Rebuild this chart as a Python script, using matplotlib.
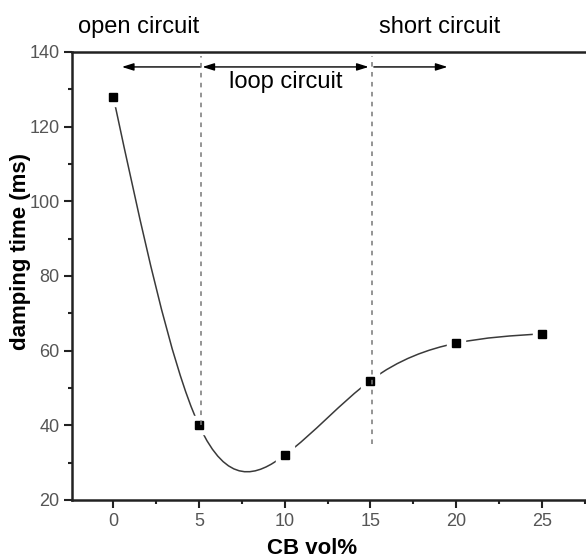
import numpy as np
import matplotlib
matplotlib.use('Agg')
import matplotlib.pyplot as plt
from matplotlib.path import Path
from matplotlib.patches import PathPatch
from matplotlib.ticker import MultipleLocator

# data
cb_vol = [0, 5, 10, 15, 20, 25]
damping_ms = [128, 40, 32, 52, 62, 64.5]
boundaries = [5, 15]
boundary_bottoms = [40, 35]
region_labels = ['open circuit', 'loop circuit', 'short circuit']

plt.rcParams['font.family'] = ['Liberation Sans', 'DejaVu Sans']

fig = plt.figure(figsize=(5.86, 5.6), dpi=100)
ax = fig.add_axes([72 / 586, 60 / 560, 1 - 72 / 586, 448 / 560])

# smooth curve through the points (natural cubic spline drawn as bezier path)
x = np.array(cb_vol, float)
y = np.array(damping_ms, float)
n = len(x)
h = np.diff(x)
A = np.zeros((n, n))
r = np.zeros(n)
A[0, 0] = A[-1, -1] = 1
for i in range(1, n - 1):
    A[i, i - 1] = h[i - 1]
    A[i, i] = 2 * (h[i - 1] + h[i])
    A[i, i + 1] = h[i]
    r[i] = 6 * ((y[i + 1] - y[i]) / h[i] - (y[i] - y[i - 1]) / h[i - 1])
M = np.linalg.solve(A, r)

verts = [(x[0], y[0])]
codes = [Path.MOVETO]
for i in range(n - 1):
    s = (y[i + 1] - y[i]) / h[i]
    m0 = s - h[i] * (2 * M[i] + M[i + 1]) / 6
    m1 = s + h[i] * (M[i] + 2 * M[i + 1]) / 6
    verts += [(x[i] + h[i] / 3, y[i] + h[i] / 3 * m0),
              (x[i + 1] - h[i] / 3, y[i + 1] - h[i] / 3 * m1),
              (x[i + 1], y[i + 1])]
    codes += [Path.CURVE4] * 3
ax.add_patch(PathPatch(Path(verts, codes), fill=False, ec='#3a3a3a', lw=1.1, zorder=2))

# white halo so the line stops short of the symbols
ax.plot(cb_vol, damping_ms, 's', ms=13, color='white', zorder=3)
ax.plot(cb_vol, damping_ms, 's', ms=6, color='black', zorder=4)

# region boundaries
for b, yb in zip(boundaries, boundary_bottoms):
    ax.plot([b + 0.1, b + 0.1], [yb, 139], color='#777777', lw=1.1,
            ls=(0, (3, 3.5)), zorder=5)

# arrows
ay = 136
ap = dict(lw=1, color='black', shrinkA=0, shrinkB=0, mutation_scale=10)
ax.annotate('', xy=(0.5, ay), xytext=(5.1, ay),
            arrowprops=dict(arrowstyle='-|>,head_length=0.7,head_width=0.22', **ap))
ax.annotate('', xy=(5.2, ay), xytext=(14.9, ay),
            arrowprops=dict(arrowstyle='<|-|>,head_length=0.7,head_width=0.22', **ap))
ax.annotate('', xy=(19.5, ay), xytext=(15.2, ay),
            arrowprops=dict(arrowstyle='-|>,head_length=0.7,head_width=0.22', **ap))

ax.text(1.45, 145.1, region_labels[0], ha='center', va='baseline', fontsize=17, clip_on=False)
ax.text(10.05, 130.4, region_labels[1], ha='center', va='baseline', fontsize=17)
ax.text(19.05, 145.1, region_labels[2], ha='center', va='baseline', fontsize=17, clip_on=False)

ax.set_xlim(-2.41, 27.58)
ax.set_ylim(20, 140)
ax.xaxis.set_major_locator(MultipleLocator(5))
ax.xaxis.set_minor_locator(MultipleLocator(2.5))
ax.yaxis.set_major_locator(MultipleLocator(20))
ax.yaxis.set_minor_locator(MultipleLocator(10))
ax.tick_params(which='both', direction='out', width=1.5, colors='#222222',
               labelcolor='#555555', labelsize=13)
ax.tick_params(which='major', length=6, pad=3)
ax.tick_params(which='minor', length=3)
ax.spines['right'].set_visible(False)
for sp in ['left', 'bottom', 'top']:
    ax.spines[sp].set_linewidth(1.8)
    ax.spines[sp].set_color('#222222')

ax.set_xlabel('CB vol%', fontsize=16, fontweight='bold')
ax.set_ylabel('damping time (ms)', fontsize=16, fontweight='bold')
ax.xaxis.set_label_coords(0.467, -0.085)
ax.yaxis.set_label_coords(-0.08, 0.555)

fig.savefig('out.png', dpi=100)
